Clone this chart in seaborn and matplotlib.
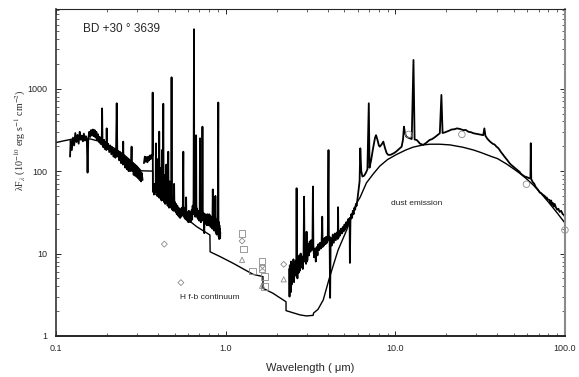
import matplotlib
matplotlib.use("Agg")
import matplotlib.pyplot as plt
import seaborn as sns

uv_wave = [0.121, 0.122, 0.124, 0.126, 0.128, 0.130, 0.132, 0.134, 0.136, 0.138,
           0.140, 0.142, 0.144, 0.146, 0.148, 0.150, 0.152, 0.1535, 0.155, 0.157,
           0.159, 0.161, 0.163, 0.165, 0.167, 0.169, 0.171, 0.173, 0.175, 0.177,
           0.179, 0.181, 0.183, 0.185, 0.186, 0.187, 0.188, 0.190, 0.192, 0.194,
           0.196, 0.198, 0.199, 0.200, 0.203, 0.206, 0.209, 0.212, 0.215, 0.218,
           0.221, 0.224, 0.226, 0.228, 0.230, 0.233, 0.236, 0.239, 0.242, 0.245,
           0.248, 0.249, 0.250, 0.253, 0.256, 0.259, 0.262, 0.265, 0.268, 0.271,
           0.274, 0.277, 0.279, 0.281, 0.284, 0.287, 0.290, 0.293, 0.296, 0.299,
           0.302, 0.305, 0.308, 0.311, 0.314, 0.317, 0.320, 0.324]
uv_flux = [150, 235, 180, 255, 205, 290, 225, 275, 215, 300,
           240, 270, 230, 285, 235, 265, 240, 96, 245, 300,
           260, 315, 270, 320, 265, 315, 255, 300, 240, 280,
           225, 260, 215, 240, 210, 577, 220, 195, 240, 185,
           225, 180, 330, 185, 215, 170, 205, 160, 195, 150,
           185, 145, 175, 665, 150, 175, 135, 170, 125, 160,
           120, 228, 125, 150, 110, 145, 105, 140, 100, 135,
           100, 125, 198, 100, 125, 90, 120, 88, 115, 85,
           110, 82, 105, 78, 100, 75, 95, 78]

opt_wave = [0.330, 0.334, 0.338, 0.342, 0.346, 0.350, 0.354, 0.358, 0.362, 0.366,
            0.369, 0.3705, 0.3715, 0.3725, 0.375, 0.378, 0.381, 0.384, 0.387, 0.388,
            0.389, 0.392, 0.395, 0.397, 0.399, 0.402, 0.404, 0.406, 0.408, 0.411,
            0.414, 0.417, 0.419, 0.421, 0.423, 0.426, 0.429, 0.431, 0.434, 0.437,
            0.440, 0.443, 0.447, 0.449, 0.452, 0.455, 0.459, 0.461, 0.464, 0.467,
            0.470, 0.473, 0.476, 0.479, 0.480, 0.481, 0.485, 0.489, 0.493, 0.497,
            0.499, 0.503, 0.507, 0.511, 0.515, 0.519, 0.523, 0.527, 0.531, 0.535,
            0.539, 0.543, 0.547, 0.551, 0.555, 0.559, 0.563, 0.565, 0.569, 0.573,
            0.577, 0.581, 0.585, 0.587, 0.591, 0.595, 0.599, 0.603, 0.607, 0.611,
            0.615, 0.619, 0.623, 0.627, 0.631, 0.635, 0.639, 0.643, 0.647, 0.651,
            0.653, 0.656, 0.659, 0.662, 0.665, 0.668, 0.670, 0.672, 0.675, 0.679,
            0.683, 0.687, 0.691, 0.695, 0.699, 0.703, 0.706, 0.708, 0.711, 0.715,
            0.719, 0.723, 0.727, 0.730, 0.733, 0.737, 0.741, 0.745, 0.748, 0.751,
            0.755, 0.760, 0.765, 0.770, 0.775, 0.780, 0.785, 0.790, 0.795, 0.800,
            0.805, 0.810, 0.815, 0.820, 0.825, 0.830, 0.835, 0.840, 0.845, 0.850,
            0.855, 0.860, 0.865, 0.870, 0.875, 0.880, 0.885, 0.890, 0.895, 0.900,
            0.905, 0.907, 0.910, 0.913, 0.916, 0.919, 0.922, 0.925, 0.928, 0.930]
opt_flux = [125, 150, 130, 148, 128, 150, 135, 155, 140, 158,
            150, 160, 897, 58, 66, 52, 70, 55, 62, 217,
            56, 68, 50, 140, 55, 66, 48, 301, 52, 62,
            46, 110, 44, 180, 56, 45, 656, 50, 42, 90,
            40, 52, 120, 42, 50, 38, 172, 44, 36, 75,
            38, 46, 36, 44, 1374, 40, 34, 45, 33, 70,
            36, 42, 32, 40, 30, 38, 29, 36, 28, 35,
            27, 34, 28, 36, 29, 34, 172, 30, 36, 27,
            33, 26, 48, 27, 32, 25, 31, 24, 33, 25,
            30, 24, 32, 25, 34, 26, 38, 30, 45, 5270,
            40, 30, 36, 28, 34, 50, 272, 40, 30, 35,
            27, 33, 26, 32, 25, 31, 250, 27, 30, 24,
            31, 25, 40, 346, 35, 26, 31, 22, 17.7, 28,
            24, 30, 23, 29, 22, 30, 23, 28, 22, 30,
            23, 29, 21, 27, 22, 28, 20, 60, 22, 27,
            19, 28, 20, 50, 18, 25, 17, 26, 20, 30,
            680, 25, 16, 24, 15, 22, 16, 20, 15.3, 18]

ir_wave = [2.37, 2.38, 2.39, 2.40, 2.41, 2.42, 2.43, 2.45, 2.47, 2.49,
           2.51, 2.53, 2.55, 2.57, 2.59, 2.61, 2.62, 2.63, 2.65, 2.67,
           2.69, 2.72, 2.74, 2.77, 2.79, 2.82, 2.85, 2.88, 2.90, 2.92,
           2.95, 2.98, 3.00, 3.02, 3.04, 3.07, 3.10, 3.13, 3.16, 3.19,
           3.22, 3.25, 3.27, 3.29, 3.32, 3.36, 3.40, 3.44, 3.48, 3.52,
           3.56, 3.60, 3.64, 3.68, 3.71, 3.73, 3.76, 3.80, 3.84, 3.88,
           3.92, 3.96, 4.00, 4.04, 4.06, 4.10, 4.13, 4.16, 4.22, 4.28,
           4.34, 4.40, 4.46, 4.52, 4.58, 4.60, 4.62, 4.66, 4.72, 4.78,
           4.84, 4.90, 4.96, 5.02, 5.08, 5.14, 5.20, 5.26, 5.32, 5.38,
           5.40, 5.44, 5.50, 5.56, 5.62, 5.68, 5.74, 5.80, 5.86, 5.92,
           5.98, 6.04, 6.10, 6.16, 6.22, 6.30, 6.40, 6.55, 6.70, 6.85,
           6.98, 7.05, 7.2, 7.4, 7.6, 7.7, 7.85, 8.0, 8.1, 8.3,
           8.5, 8.7, 8.9, 9.1, 9.4, 9.8, 10.1, 10.5, 10.9, 11.1,
           11.25, 11.4, 11.6, 11.9, 12.2, 12.5, 12.8, 13.0, 13.4, 14.0,
           14.6, 15.2, 15.9, 16.5, 17.2, 17.8, 18.3, 18.7, 19.0, 19.6,
           20.1, 20.8, 21.5, 22.3, 23.1, 24.0, 25.2, 26.0, 27.0, 28.0,
           28.9, 30.0, 31.0, 32.0, 33.0, 33.5, 34.0, 35.0, 36.2, 37.5,
           38.5, 39.5, 40.6, 42.0, 43.0, 44.0, 45.6, 47.0, 48.0, 49.5,
           51.0, 52.5, 54.0, 55.0, 56.3, 58.0, 60.0, 61.5, 62.6, 62.9,
           63.3, 64.5, 66.0, 67.0, 68.2, 69.5, 71.0, 72.5, 74.3, 76.0,
           77.0, 78.0, 79.5, 81.1, 82.0, 83.0, 84.0, 85.0, 86.0, 87.0,
           88.6, 90.0, 91.5, 93.0, 95.0, 97.0, 98.5, 100.0]
ir_flux = [6.5, 3.0, 7.2, 4.5, 6.0, 3.4, 8.0, 4.2, 7.5, 4.8,
           8.5, 4.5, 7.2, 5.4, 8.2, 6.0, 62, 6.8, 5.0, 9.0,
           5.8, 9.5, 6.2, 10.0, 6.8, 9.2, 6.5, 9.8, 49, 8.0,
           11.0, 7.5, 18.4, 8.0, 8.5, 13.0, 9.5, 14.0, 10.5, 14.5,
           11.0, 13.5, 65, 12.5, 9.0, 11.5, 8.0, 12.0, 9.5, 13.0,
           11.0, 13.5, 11.5, 14.0, 28, 12.0, 15.0, 12.5, 15.5, 13.0,
           16.0, 13.5, 15.0, 180, 14.5, 16.0, 2.9, 15.5, 12.5, 17.0,
           13.5, 17.5, 14.5, 18.0, 15.0, 36.5, 15.5, 19.0, 16.5, 20.0,
           17.5, 21.0, 18.5, 22.5, 19.5, 24.0, 21.0, 26.0, 22.5, 27.0,
           7.7, 25.0, 30.0, 27.0, 33.0, 30.0, 36.0, 34.0, 40.0, 38.0,
           45.0, 52.0, 62.0, 75.0, 189, 100, 86, 88, 95, 105,
           665, 110, 135, 190, 255, 273, 240, 205, 198, 210,
           228, 190, 165, 157, 158, 165, 172, 185, 198, 240,
           346, 290, 262, 255, 250, 245, 2230, 242, 238, 215,
           208, 220, 238, 245, 260, 275, 288, 840, 290, 295,
           301, 310, 320, 322, 330, 325, 314, 316, 300, 296,
           288, 284, 280, 276, 273, 330, 268, 245, 228, 215,
           210, 198, 189, 170, 160, 150, 137, 126, 120, 114,
           108, 103, 98, 93, 89.5, 86, 84, 82, 82, 218,
           80, 74, 70, 65, 62, 59, 55, 54, 51.4, 50,
           47, 48, 45, 44.7, 41, 44, 39, 41, 37, 40,
           36, 34, 35, 32, 33, 30, 29.5, 28]

# --- model: stellar + H free-bound continuum, then dust emission ---
model_wave = [0.1, 0.11, 0.125, 0.14, 0.16, 0.18, 0.2, 0.22, 0.25, 0.28,
              0.30, 0.317, 0.372, 0.372, 0.427, 0.538, 0.675, 0.808, 0.81, 0.926,
              1.11, 1.45, 1.66, 1.66, 1.9, 2.27, 2.27, 2.75, 3.0, 3.28,
              3.3, 3.5, 3.76, 4.11, 4.6, 5.17, 5.91, 6.2, 6.76, 7.4,
              8.1, 9.0, 10.1, 11.5, 12.7, 14.6, 16.0, 18.3, 21.0, 25.0,
              29.0, 32.0, 37.0, 40.0, 45.0, 50.0, 55.0, 60.0, 65.0, 71.0,
              80.0, 89.0, 100.0]
model_flux = [222, 232, 245, 250, 245, 230, 210, 190, 160, 130,
              115, 101, 100, 56, 44.7, 30.8, 21.2, 16.8, 10.5, 9.2,
              7.6, 5.6, 5.25, 3.79, 3.3, 2.6, 2.03, 1.8, 1.75, 1.78,
              1.9, 2.1, 2.73, 5.25, 11.0, 19.3, 40.8, 48, 72, 92,
              115, 138, 158, 180, 195, 208, 212, 212, 208, 195,
              180, 168, 150, 142, 123, 106, 92, 79, 68, 56,
              42, 32, 23.5]

# --- photometry ---
diamond_x = [0.435, 0.545, 1.25, 2.2]
diamond_y = [13.0, 4.44, 14.2, 7.4]
square_x = [1.25, 1.27, 1.44, 1.64, 1.64, 1.69, 1.69]
square_y = [17.6, 11.4, 6.14, 8.1, 6.6, 5.25, 3.96]
triangle_x = [1.25, 1.64, 2.2]
triangle_y = [8.4, 4.07, 4.87]
cross_x = [1.64]
cross_y = [6.6]
circle_x = [12.0, 24.7, 59.3, 100.0]
circle_y = [279, 279, 69.3, 19.3]

x_ticks = [0.1, 1.0, 10.0, 100.0]
x_ticklabels = ["0.1", "1.0", "10.0", "100.0"]
y_ticks = [1, 10, 100, 1000]
y_ticklabels = ["1", "10", "100", "1000"]

sns.set_style("ticks")
plt.rcParams['font.family'] = ['Liberation Sans', 'DejaVu Sans']
plt.rcParams['mathtext.fontset'] = 'stix'

fig = plt.figure(figsize=(5.79, 3.77), dpi=100)
ax = fig.add_axes([0.0967, 0.1088, 0.879, 0.8674])
ax.set_xscale('log')
ax.set_yscale('log')

for w, f in [(uv_wave, uv_flux), (opt_wave, opt_flux), (ir_wave, ir_flux)]:
    sns.lineplot(x=w, y=f, ax=ax, sort=False, estimator=None, color='black', lw=1.3)
sns.lineplot(x=model_wave, y=model_flux, ax=ax, sort=False, estimator=None, color='black', lw=1.0)

mk = dict(ax=ax, facecolor='none', edgecolor='#8a8a8a', linewidth=0.6, clip_on=False, zorder=5)
sns.scatterplot(x=diamond_x, y=diamond_y, marker='D', s=9, **mk)
sns.scatterplot(x=square_x, y=square_y, marker='s', s=22, **mk)
sns.scatterplot(x=triangle_x, y=triangle_y, marker='^', s=14, **mk)
sns.scatterplot(x=circle_x, y=circle_y, marker='o', s=22, **mk)
sns.scatterplot(x=cross_x, y=cross_y, marker='x', s=16, ax=ax, color='#8a8a8a', linewidth=0.6, zorder=5)

ax.set_xlim(0.1, 100)
ax.set_ylim(1, 9270)
ax.set_xticks(x_ticks)
ax.set_xticklabels(x_ticklabels)
ax.set_yticks(y_ticks)
ax.set_yticklabels(y_ticklabels)
ax.tick_params(which='both', direction='in', top=True, right=True, labelsize=6.5, pad=6)
ax.tick_params(which='major', length=3.5, width=0.7)
ax.tick_params(which='minor', length=2, width=0.5)

ax.spines['left'].set_color('#333333')
ax.spines['left'].set_linewidth(1.2)
ax.spines['bottom'].set_linewidth(1.4)
ax.spines['top'].set_linewidth(0.8)
ax.spines['right'].set_color('#8a8a8a')
ax.spines['right'].set_linewidth(1.5)

ax.set_xlabel("Wavelength ( μm)", fontsize=8)
ax.xaxis.set_label_coords(0.5, -0.083)
ax.set_ylabel(r"λF$_\lambda$ (10$^{-10}$ erg s$^{-1}$ cm$^{-2}$)", fontsize=7.2,
              family=['Liberation Serif', 'DejaVu Serif'])
ax.yaxis.set_label_coords(-0.055, 0.60)

ax.text(0.144, 5260, "BD +30 ° 3639", fontsize=8.5, ha='left', va='center')
ax.text(0.538, 2.92, "H f-b continuum", fontsize=6, ha='left', va='center')
ax.text(9.4, 40, "dust emission", fontsize=6, ha='left', va='center')

fig.savefig("out.png", dpi=100)
